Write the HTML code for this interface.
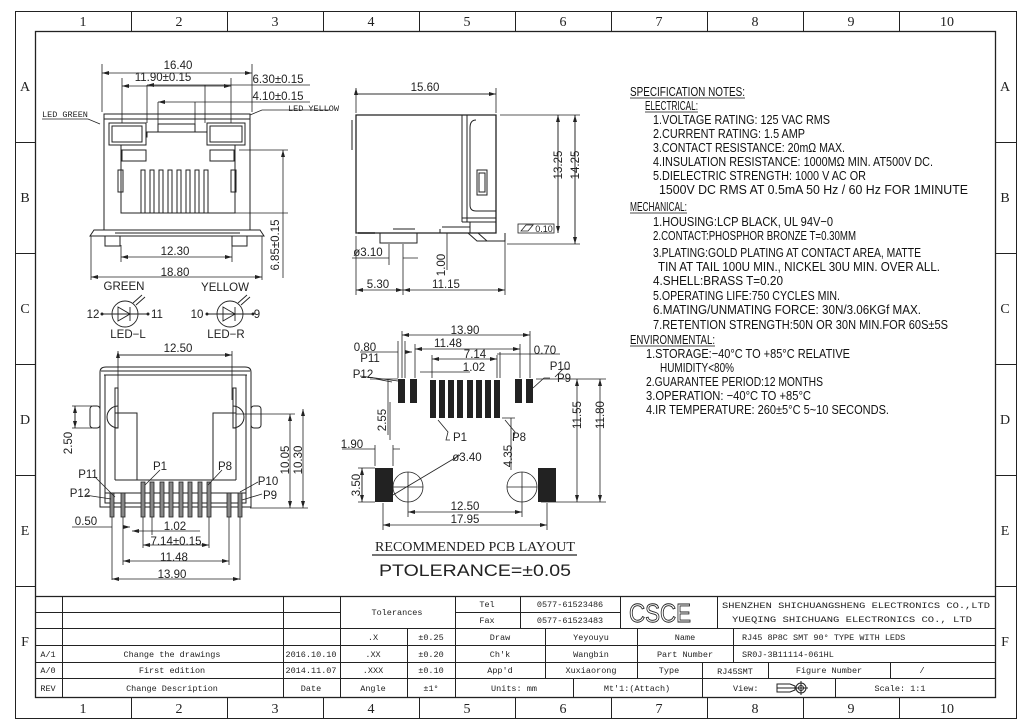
<!DOCTYPE html>
<html><head><meta charset="utf-8"><style>
html,body{margin:0;padding:0;background:#fff}
svg{display:block}
.d{font-family:"Liberation Sans",sans-serif;font-size:11.5px;fill:#222}
.s{font-family:"Liberation Sans",sans-serif;font-size:13px;fill:#111}
.m{font-family:"Liberation Mono","Noto Sans CJK SC",monospace;font-size:8.5px;fill:#222}
.f{font-family:"Liberation Serif",serif;font-size:14px;fill:#222}
</style></head><body>
<svg width="1030" height="728" viewBox="0 0 1030 728" xmlns="http://www.w3.org/2000/svg">
<defs><marker id="a" markerWidth="7" markerHeight="4" refX="7" refY="2" orient="auto-start-reverse" markerUnits="userSpaceOnUse"><path d="M0,0L7,2L0,4z" fill="#222"/></marker></defs>
<rect width="1030" height="728" fill="#fff"/>
<g fill="none" stroke="#222" stroke-width="1">
<rect x="15.5" y="11.5" width="1001" height="707"/>
<rect x="35.5" y="31.5" width="960" height="666" stroke-width="1.3"/>
<path d="M131.5,11V31M227.5,11V31M323.5,11V31M419.5,11V31M515.5,11V31M611.5,11V31M707.5,11V31M803.5,11V31M899.5,11V31
M131.5,697V718M227.5,697V718M323.5,697V718M419.5,697V718M515.5,697V718M611.5,697V718M707.5,697V718M803.5,697V718M899.5,697V718
M15,142.5H35M15,253.5H35M15,364.5H35M15,475.5H35M15,586.5H35M996,142.5H1016M996,253.5H1016M996,364.5H1016M996,475.5H1016M996,586.5H1016"/>
</g>
<g font-family="Liberation Serif,serif" font-size="14" fill="#222" text-anchor="middle">
<text x="83" y="26">1</text><text x="179" y="26">2</text><text x="275" y="26">3</text><text x="371" y="26">4</text><text x="467" y="26">5</text><text x="563" y="26">6</text><text x="659" y="26">7</text><text x="755" y="26">8</text><text x="851" y="26">9</text><text x="947" y="26">10</text>
<text x="83" y="713">1</text><text x="179" y="713">2</text><text x="275" y="713">3</text><text x="371" y="713">4</text><text x="467" y="713">5</text><text x="563" y="713">6</text><text x="659" y="713">7</text><text x="755" y="713">8</text><text x="851" y="713">9</text><text x="947" y="713">10</text>
<text x="25" y="91">A</text><text x="25" y="202">B</text><text x="25" y="313">C</text><text x="25" y="424">D</text><text x="25" y="535">E</text><text x="25" y="646">F</text>
<text x="1005" y="91">A</text><text x="1005" y="202">B</text><text x="1005" y="313">C</text><text x="1005" y="424">D</text><text x="1005" y="535">E</text><text x="1005" y="646">F</text>
</g>

<!-- top-left view -->
<g fill="none" stroke="#222" stroke-width="1">
<rect x="104" y="114" width="146" height="116"/>
<path d="M104,119H250"/>
<rect x="109" y="123" width="37" height="22"/><rect x="112" y="126" width="30" height="16"/>
<rect x="207" y="123" width="38" height="22"/><rect x="210" y="126" width="32" height="16"/>
<rect x="158" y="124" width="37" height="8"/>
<path d="M146,137H147V132H207V137M121,145V213H235V145M146,137V145M207,137V145M121,145H146M207,145H235"/>
<rect x="122" y="150" width="24" height="11"/><rect x="210" y="150" width="24" height="11"/>
<rect x="118" y="170" width="5" height="22"/><rect x="231" y="170" width="5" height="22"/>
<rect x="141" y="170" width="4" height="43"/><rect x="150" y="170" width="4" height="43"/><rect x="159" y="170" width="4" height="43"/><rect x="168" y="170" width="4" height="43"/><rect x="177" y="170" width="4" height="43"/><rect x="186" y="170" width="4" height="43"/><rect x="195" y="170" width="4" height="43"/><rect x="204" y="170" width="4" height="43"/>
<path d="M90,236L94,230H260L264,236ZM115,233H240" />
<rect x="105" y="236" width="15" height="10"/><rect x="232" y="236" width="15" height="10"/>
<path d="M102,64V112M252,64V112M122,78V123M231,78V123M147,85V123M205,85V123M158,102V124M195,102V124M239,150H288M235,213H288M121,245V262M232,245V262M91,236V280M262,236V280" stroke-width="0.8"/>
</g>
<g stroke="#222" stroke-width="0.8" fill="none">
<path d="M102,73H252" marker-start="url(#a)" marker-end="url(#a)"/>
<path d="M122,86H231" marker-start="url(#a)" marker-end="url(#a)"/>
<path d="M147,85H205M205,85H310" marker-start="url(#a)"/>
<path d="M158,102H195M195,102H310" marker-start="url(#a)"/>
<path d="M283,150V278" marker-start="url(#a)"/>
<path d="M121,257H232" marker-start="url(#a)" marker-end="url(#a)"/>
<path d="M91,277H262" marker-start="url(#a)" marker-end="url(#a)"/>
<path d="M42,119H88L100,124M250,115L262,110H330"/>
</g>
<g class="d" text-anchor="middle">
<text x="178" y="69">16.40</text><text x="163" y="81">11.90±0.15</text>
<text x="278" y="83">6.30±0.15</text><text x="278" y="100">4.10±0.15</text>
<text x="175" y="255">12.30</text><text x="175" y="276">18.80</text>
<text transform="translate(279,245) rotate(-90)">6.85±0.15</text>
</g>
<text x="42" y="117" class="m">LED GREEN</text><text x="288" y="111" class="m">LED YELLOW</text>
<g fill="none" stroke="#222" stroke-width="0.9">
<circle cx="125" cy="314" r="13"/><circle cx="230" cy="314" r="13"/>
<path d="M102,314H148M118,307V321L130,314ZM130,307V321M207,314H253M223,307V321L235,314ZM235,307V321M133,303L142,295M136,305L145,297M238,303L247,295M241,305L250,297"/>
</g>
<g fill="#222"><circle cx="102" cy="314" r="1.5"/><circle cx="148" cy="314" r="1.5"/><circle cx="207" cy="314" r="1.5"/><circle cx="253" cy="314" r="1.5"/></g>
<g class="d" font-size="10.5" text-anchor="middle">
<text x="124" y="290">GREEN</text><text x="225" y="291">YELLOW</text>
<text x="93" y="318">12</text><text x="157" y="318">11</text><text x="197" y="318">10</text><text x="257" y="318">9</text>
<text x="128" y="338">LED−L</text><text x="226" y="338">LED−R</text>
</g>

<!-- front view bottom-left -->
<g fill="none" stroke="#222" stroke-width="1">
<path d="M100,507V372Q100,367 106,367H245Q251,367 251,372V507Z"/>
<path d="M101,371H250M104,375H247M105,375V503H246V375"/>
<rect x="90" y="406" width="10" height="22" rx="3"/><rect x="251" y="406" width="10" height="22" rx="3"/>
<path d="M118,406A11,11 0 0 0 118,428M233,406A11,11 0 0 1 233,428"/>
<rect x="115" y="388" width="3" height="40"/><rect x="233" y="388" width="3" height="40"/>
<path d="M115,480V413H137V480M213,480V413H236V480M115,480H236M105,493H246"/>
</g>
<g fill="#888" stroke="#222" stroke-width="0.8">
<rect x="141" y="482" width="4" height="35"/><rect x="150" y="482" width="4" height="35"/><rect x="160" y="482" width="4" height="35"/><rect x="169" y="482" width="4" height="35"/><rect x="179" y="482" width="4" height="35"/><rect x="188" y="482" width="4" height="35"/><rect x="198" y="482" width="4" height="35"/><rect x="207" y="482" width="4" height="35"/>
<rect x="110" y="493" width="4" height="24"/><rect x="121" y="493" width="4" height="24"/><rect x="227" y="493" width="4" height="24"/><rect x="238" y="493" width="4" height="24"/>
</g>
<g stroke="#222" stroke-width="0.8" fill="none">
<path d="M118,351V400M232,351V400M118,355H232" marker-start="url(#a)"/>
<path d="M118,355H232" marker-end="url(#a)"/>
<path d="M72,406H92M72,428H92M75,406V428M236,414H295M250,508H308"/>
<path d="M75,406V428" marker-start="url(#a)" marker-end="url(#a)"/>
<path d="M290,414V508" marker-start="url(#a)" marker-end="url(#a)"/>
<path d="M303,409V508" marker-start="url(#a)" marker-end="url(#a)"/>
<path d="M112,517V580M123,517V565M143,517V548M152,517V535M209,517V548M229,517V565M240,517V580"/>
<path d="M72,527H112M123,527H130" marker-end="url(#a)"/>
<path d="M132,531H152M152,531H200" marker-start="url(#a)"/>
<path d="M143,545H209" marker-start="url(#a)" marker-end="url(#a)"/>
<path d="M123,561H229" marker-start="url(#a)" marker-end="url(#a)"/>
<path d="M112,579H240" marker-start="url(#a)" marker-end="url(#a)"/>
<path d="M95,477L115,497M85,495L111,499M160,470L145,485M222,470L208,485M258,482L240,492M262,494L242,500"/>
</g>
<g class="d" text-anchor="middle">
<text x="178" y="352">12.50</text>
<text transform="translate(72,443) rotate(-90)">2.50</text>
<text transform="translate(289,460) rotate(-90)">10.05</text>
<text transform="translate(302,460) rotate(-90)">10.30</text>
<text x="88" y="478">P11</text><text x="80" y="497">P12</text>
<text x="160" y="470">P1</text><text x="225" y="470">P8</text>
<text x="268" y="485">P10</text><text x="270" y="499">P9</text>
<text x="86" y="525">0.50</text><text x="175" y="530">1.02</text>
<text x="176" y="545">7.14±0.15</text><text x="174" y="561">11.48</text><text x="172" y="578">13.90</text>
</g>

<!-- side view -->
<g fill="none" stroke="#222" stroke-width="1">
<path d="M356,115H496V233H356Z" stroke-width="1.3"/>
<path d="M462,115V222M467,115V222M476,120Q470,120 470,128V205Q470,211 476,211H496M496,218H462M496,222H462M477,170h10v25h-10zM479,173h6v19h-6z"/>
<path d="M352,120V150M442,227H470M470,222V233M468,233L477,241H505V233M478,233L487,241M380,233V243H417V233M393,229H415M440,229V233H462"/>
<path d="M358,233H375" stroke-width="1.5"/>
</g>
<g stroke="#222" stroke-width="0.8" fill="none">
<path d="M356,88V113M496,88V113M356,94H496" marker-start="url(#a)"/>
<path d="M356,94H496" marker-end="url(#a)"/>
<path d="M500,115H580M507,244H580M558,115V233M575,115V244"/>
<path d="M558,115V233" marker-start="url(#a)" marker-end="url(#a)"/>
<path d="M575,115V244" marker-start="url(#a)" marker-end="url(#a)"/>
<rect x="518" y="224" width="36" height="9"/><path d="M521,231L526,225H533L528,231Z"/>
<path d="M352,258H389M403,258H418M389,244V265M403,244V295M356,236V295M447,233V270M505,236V295"/>
<path d="M356,290H403" marker-start="url(#a)" marker-end="url(#a)"/>
<path d="M403,290H505" marker-start="url(#a)" marker-end="url(#a)"/>
</g>
<g class="d" text-anchor="middle">
<text x="425" y="91">15.60</text>
<text transform="translate(562,165) rotate(-90)">13.25</text>
<text transform="translate(579,165) rotate(-90)">14.25</text>
<text x="544" y="232" font-size="9">0.10</text>
<text x="368" y="256">ø3.10</text>
<text transform="translate(445,265) rotate(-90)">1.00</text>
<text x="378" y="288">5.30</text><text x="446" y="288">11.15</text>
</g>

<!-- PCB layout -->
<g fill="#222">
<rect x="398" y="379" width="7" height="24"/><rect x="410" y="379" width="7" height="24"/>
<rect x="515" y="379" width="7" height="24"/><rect x="526" y="379" width="7" height="24"/>
<rect x="430" y="380" width="6" height="38"/><rect x="439" y="380" width="6" height="38"/><rect x="448" y="380" width="6" height="38"/><rect x="457" y="380" width="6" height="38"/><rect x="467" y="380" width="6" height="38"/><rect x="476" y="380" width="6" height="38"/><rect x="485" y="380" width="6" height="38"/><rect x="494" y="380" width="6" height="38"/>
<rect x="375" y="468" width="18" height="34"/><rect x="538" y="468" width="18" height="34"/>
</g>
<g fill="none" stroke="#222" stroke-width="0.8">
<circle cx="408" cy="487" r="15"/><circle cx="522" cy="487" r="15"/>
<path d="M393,487H423M408,472V502M507,487H537M522,472V502M393,495L460,455"/>
<path d="M402,331V378M530,331V378M415,344V378M520,344V378M432,355V378M497,355V378M500,352V378M405,341V378M398,341V378"/>
<path d="M402,335H530" marker-start="url(#a)" marker-end="url(#a)"/>
<path d="M415,349H520" marker-start="url(#a)" marker-end="url(#a)"/>
<path d="M432,359H497" marker-start="url(#a)" marker-end="url(#a)"/>
<path d="M360,352H398M405,352H412" marker-end="url(#a)"/>
<path d="M497,354H505M500,354H560" />
<path d="M420,372H433M433,372H470" />
<path d="M388,379V435M370,379H398M502,418H515M511,418V470M536,379H606M541,502H606M390,402V440"/>
<path d="M577,379V502" marker-start="url(#a)" marker-end="url(#a)"/>
<path d="M600,379V502" marker-start="url(#a)" marker-end="url(#a)"/>
<path d="M375,445V466M393,445V466M342,449H375M393,449H400" />
<path d="M358,468H375M358,502H375M362,468V502" />
<path d="M362,468V502" marker-start="url(#a)" marker-end="url(#a)"/>
<path d="M408,502V517M522,502V517M383,503V530M547,503V530"/>
<path d="M408,512H522" marker-start="url(#a)" marker-end="url(#a)"/>
<path d="M383,525H547" marker-start="url(#a)" marker-end="url(#a)"/>
<path d="M376,379L392,382M360,376L398,381M438,420L448,432L446,440H450M505,420L515,432L513,440M555,377L563,369H570M533,388L544,378H550"/>
<path d="M372,555H577" stroke-width="1.2"/>
</g>
<g class="d" text-anchor="middle">
<text x="465" y="334">13.90</text><text x="448" y="347">11.48</text>
<text x="365" y="351">0.80</text><text x="370" y="362">P11</text><text x="363" y="378">P12</text>
<text x="475" y="358">7.14</text><text x="545" y="354">0.70</text><text x="474" y="371">1.02</text>
<text x="560" y="370">P10</text><text x="564" y="382">P9</text>
<text transform="translate(386,420) rotate(-90)">2.55</text>
<text x="460" y="441">P1</text><text x="519" y="441">P8</text>
<text x="352" y="448">1.90</text><text x="467" y="461">ø3.40</text>
<text transform="translate(512,456) rotate(-90)">4.35</text>
<text transform="translate(581,415) rotate(-90)">11.55</text>
<text transform="translate(604,415) rotate(-90)">11.80</text>
<text transform="translate(360,485) rotate(-90)">3.50</text>
<text x="465" y="510">12.50</text><text x="465" y="523">17.95</text>
</g>
<text x="475" y="551" class="f" text-anchor="middle" textLength="200" lengthAdjust="spacingAndGlyphs">RECOMMENDED PCB LAYOUT</text>
<text x="475" y="576" font-family="Liberation Sans,sans-serif" font-size="17" fill="#222" text-anchor="middle" textLength="192" lengthAdjust="spacingAndGlyphs">PTOLERANCE=±0.05</text>

<!-- spec notes -->
<g class="s">
<text x="630" y="96" textLength="115" lengthAdjust="spacingAndGlyphs">SPECIFICATION NOTES:</text>
<text x="645" y="110" textLength="53" lengthAdjust="spacingAndGlyphs">ELECTRICAL:</text>
<text x="653" y="124" textLength="177" lengthAdjust="spacingAndGlyphs">1.VOLTAGE RATING: 125 VAC RMS</text>
<text x="653" y="138" textLength="152" lengthAdjust="spacingAndGlyphs">2.CURRENT RATING: 1.5 AMP</text>
<text x="653" y="152" textLength="192" lengthAdjust="spacingAndGlyphs">3.CONTACT RESISTANCE: 20mΩ MAX.</text>
<text x="653" y="166" textLength="280" lengthAdjust="spacingAndGlyphs">4.INSULATION RESISTANCE: 1000MΩ MIN. AT500V DC.</text>
<text x="653" y="180" textLength="213" lengthAdjust="spacingAndGlyphs">5.DIELECTRIC STRENGTH: 1000 V AC OR</text>
<text x="659" y="194" textLength="309" lengthAdjust="spacingAndGlyphs">1500V DC RMS AT 0.5mA 50 Hz / 60 Hz FOR 1MINUTE</text>
<text x="630" y="211" textLength="57" lengthAdjust="spacingAndGlyphs">MECHANICAL:</text>
<text x="653" y="226" textLength="180" lengthAdjust="spacingAndGlyphs">1.HOUSING:LCP BLACK, UL 94V−0</text>
<text x="653" y="240" textLength="203" lengthAdjust="spacingAndGlyphs">2.CONTACT:PHOSPHOR BRONZE T=0.30MM</text>
<text x="653" y="257" textLength="268" lengthAdjust="spacingAndGlyphs">3.PLATING:GOLD PLATING AT CONTACT AREA, MATTE</text>
<text x="658" y="271" textLength="282" lengthAdjust="spacingAndGlyphs">TIN AT TAIL 100U MIN., NICKEL 30U MIN. OVER ALL.</text>
<text x="653" y="285" textLength="130" lengthAdjust="spacingAndGlyphs">4.SHELL:BRASS T=0.20</text>
<text x="653" y="300" textLength="187" lengthAdjust="spacingAndGlyphs">5.OPERATING LIFE:750 CYCLES MIN.</text>
<text x="653" y="314" textLength="268" lengthAdjust="spacingAndGlyphs">6.MATING/UNMATING  FORCE: 30N/3.06KGf MAX.</text>
<text x="653" y="329" textLength="295" lengthAdjust="spacingAndGlyphs">7.RETENTION  STRENGTH:50N OR 30N MIN.FOR 60S±5S</text>
<text x="630" y="344" textLength="85" lengthAdjust="spacingAndGlyphs">ENVIRONMENTAL:</text>
<text x="646" y="358" textLength="204" lengthAdjust="spacingAndGlyphs">1.STORAGE:−40°C TO +85°C   RELATIVE</text>
<text x="660" y="372" textLength="74" lengthAdjust="spacingAndGlyphs">HUMIDITY&lt;80%</text>
<text x="646" y="386" textLength="177" lengthAdjust="spacingAndGlyphs">2.GUARANTEE PERIOD:12 MONTHS</text>
<text x="646" y="400" textLength="165" lengthAdjust="spacingAndGlyphs">3.OPERATION:  −40°C TO +85°C</text>
<text x="646" y="414" textLength="243" lengthAdjust="spacingAndGlyphs">4.IR TEMPERATURE: 260±5°C 5~10 SECONDS.</text>
</g>
<path d="M630,98H745M645,112H698M630,213H687M630,346H715" stroke="#111" stroke-width="0.8"/>

<!-- title block -->
<g fill="none" stroke="#222" stroke-width="1">
<path d="M35,596.5H995" stroke-width="1.3"/>
<path d="M35,612.5H340M455,612.5H620M35,628.5H995M35,645.5H995M35,662.5H995M35,678.5H995"/>
<path d="M62.5,596V697M283.5,596V697M340.5,596V697M455.5,596V697M407.5,628V697M520.5,596V628M620.5,596V628M717.5,596V628M545.5,628V678M637.5,628V678M733.5,628V662M702.5,662V697M768.5,662V678M890.5,662V678M573.5,678V697M835.5,678V697"/>
<path d="M777,684H790L795,686V690L790,692H777ZM777,688H795"/>
<circle cx="801" cy="688" r="5"/><circle cx="801" cy="688" r="2.5"/><path d="M794,688H808M801,681V695"/>
</g>
<text x="660" y="622" font-family="Liberation Sans,sans-serif" font-size="26" fill="#fff" stroke="#222" stroke-width="0.9" text-anchor="middle" textLength="62" lengthAdjust="spacingAndGlyphs">CSCE</text>
<g class="m" text-anchor="middle">
<text x="397" y="615">Tolerances</text>
<text x="487" y="607">Tel</text><text x="487" y="623">Fax</text>
<text x="570" y="607">0577-61523486</text><text x="570" y="623">0577-61523483</text>
<text x="373" y="640">.X</text><text x="431" y="640">±0.25</text><text x="500" y="640">Draw</text><text x="591" y="640">Yeyouyu</text><text x="685" y="640">Name</text>
<text x="48" y="657">A/1</text><text x="172" y="657">Change the drawings</text><text x="311" y="657">2016.10.10</text><text x="373" y="657">.XX</text><text x="431" y="657">±0.20</text><text x="500" y="657">Ch'k</text><text x="591" y="657">Wangbin</text><text x="685" y="657">Part Number</text>
<text x="48" y="673">A/0</text><text x="172" y="673">First edition</text><text x="311" y="673">2014.11.07</text><text x="373" y="673">.XXX</text><text x="431" y="673">±0.10</text><text x="500" y="673">App'd</text><text x="591" y="673">Xuxiaorong</text><text x="669" y="673">Type</text><text x="735" y="674">RJ45SMT</text><text x="829" y="673">Figure Number</text><text x="922" y="673">/</text>
<text x="48" y="691">REV</text><text x="172" y="691">Change Description</text><text x="311" y="691">Date</text><text x="373" y="691">Angle</text><text x="431" y="691">±1°</text><text x="514" y="691">Units: mm</text><text x="637" y="691">Mt'1:(Attach)</text><text x="900" y="691">Scale: 1:1</text>
</g>
<text x="733" y="691" class="m">View:</text>
<text x="742" y="640" class="m">RJ45 8P8C SMT 90° TYPE WITH LEDS</text>
<text x="742" y="657" class="m">SR0J-3B11114-061HL</text>
<text x="722" y="608" class="m" font-size="10.5" textLength="268" lengthAdjust="spacingAndGlyphs">SHENZHEN SHICHUANGSHENG ELECTRONICS CO.,LTD</text>
<text x="732" y="622" class="m" font-size="10.5" textLength="240" lengthAdjust="spacingAndGlyphs">YUEQING SHICHUANG ELECTRONICS CO., LTD</text>
</svg>
</body></html>
